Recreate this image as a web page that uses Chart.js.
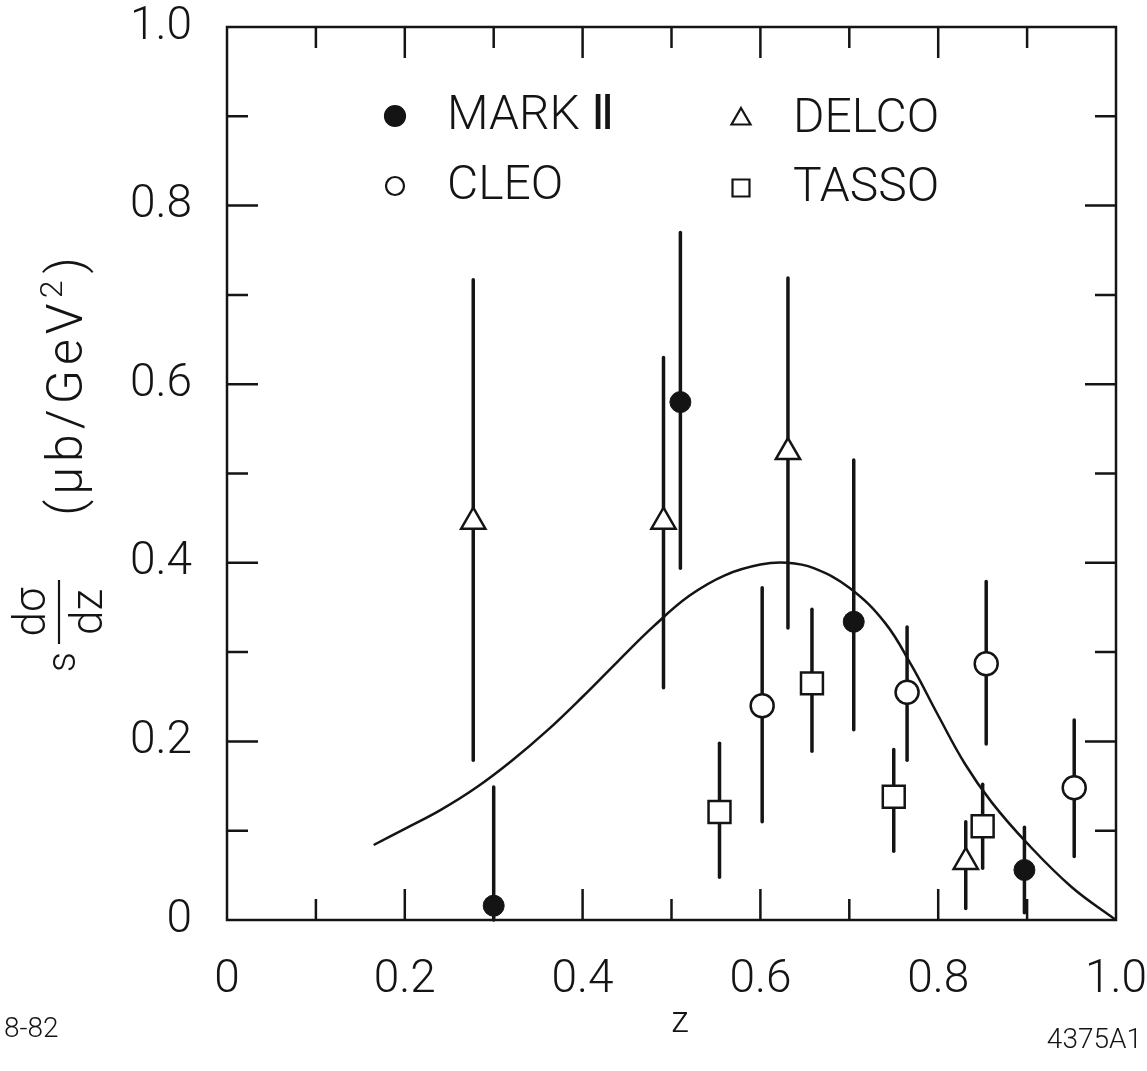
<!DOCTYPE html>
<html>
<head>
<meta charset="utf-8">
<script src="https://cdn.jsdelivr.net/npm/chart.js@4.4.1/dist/chart.umd.min.js"></script>
<style>
  html, body { margin: 0; padding: 0; background: #fff; }
  #wrap { width: 1147px; height: 1071px; }
</style>
</head>
<body>
<div id="wrap"><canvas id="myChart" width="1147" height="1071"></canvas></div>
<script>
// values: z, s dsigma/dz (ub/GeV^2), error bar low / high
const markZ = [0.30, 0.51, 0.705, 0.897];
const markY = [0.016, 0.58, 0.334, 0.056];
const markLo = [0.0, 0.394, 0.213, 0.008];
const markHi = [0.149, 0.77, 0.515, 0.104];

const cleoZ = [0.602, 0.765, 0.854, 0.953];
const cleoY = [0.24, 0.255, 0.287, 0.148];
const cleoLo = [0.11, 0.179, 0.197, 0.071];
const cleoHi = [0.372, 0.328, 0.379, 0.224];

const delcoZ = [0.277, 0.491, 0.631, 0.831];
const delcoY = [0.446, 0.446, 0.524, 0.065];
const delcoLo = [0.179, 0.26, 0.327, 0.013];
const delcoHi = [0.717, 0.63, 0.719, 0.11];

const tassoZ = [0.554, 0.658, 0.75, 0.85];
const tassoY = [0.121, 0.265, 0.138, 0.105];
const tassoLo = [0.048, 0.189, 0.077, 0.058];
const tassoHi = [0.198, 0.348, 0.191, 0.152];

// the smooth curve
const curveZ = [0.165, 0.20, 0.24, 0.28, 0.32, 0.36, 0.40, 0.44, 0.48, 0.52, 0.56, 0.60, 0.63, 0.66, 0.70, 0.74, 0.77, 0.80, 0.83, 0.86, 0.90, 0.95, 1.00];
const curveY = [0.084, 0.102, 0.123, 0.148, 0.178, 0.212, 0.250, 0.290, 0.329, 0.363, 0.386, 0.398, 0.400, 0.394, 0.372, 0.333, 0.285, 0.229, 0.175, 0.132, 0.086, 0.037, 0.0];

const frameTicks = [0.1, 0.2, 0.3, 0.4, 0.5, 0.6, 0.7, 0.8, 0.9];

const ink = "#141414";
const face = "Roboto";

const pts = (xs, ys) => xs.map((v, i) => ({ x: v, y: ys[i] }));

// frame with inward ticks on all four sides
const framePlugin = {
  id: "framePlugin",
  beforeDatasetsDraw(chart) {
    const { ctx, chartArea: a, scales } = chart;
    ctx.save();
    ctx.strokeStyle = ink;
    ctx.lineWidth = 2.5;
    ctx.strokeRect(a.left, a.top, a.right - a.left, a.bottom - a.top);
    ctx.beginPath();
    frameTicks.forEach((t, i) => {
      const len = i % 2 ? 31 : 21;
      const px = scales.x.getPixelForValue(t);
      const py = scales.y.getPixelForValue(t);
      ctx.moveTo(px, a.bottom); ctx.lineTo(px, a.bottom - len);
      ctx.moveTo(px, a.top); ctx.lineTo(px, a.top + len);
      ctx.moveTo(a.left, py); ctx.lineTo(a.left + len, py);
      ctx.moveTo(a.right, py); ctx.lineTo(a.right - len, py);
    });
    ctx.stroke();
    ctx.restore();
  }
};

// vertical error bars, drawn under the markers
const errorBars = {
  id: "errorBars",
  beforeDatasetsDraw(chart) {
    const { ctx, scales } = chart;
    ctx.save();
    ctx.strokeStyle = ink;
    ctx.lineWidth = 3.5;
    ctx.lineCap = "round";
    chart.data.datasets.forEach((ds) => {
      if (!ds.lo) return;
      ds.data.forEach((p, i) => {
        const px = scales.x.getPixelForValue(p.x);
        ctx.beginPath();
        ctx.moveTo(px, scales.y.getPixelForValue(ds.lo[i]));
        ctx.lineTo(px, scales.y.getPixelForValue(ds.hi[i]));
        ctx.stroke();
      });
    });
    ctx.restore();
  }
};

// legend, axis titles and the figure numbers
const notes = {
  id: "notes",
  afterDraw(chart) {
    const { ctx } = chart;
    ctx.save();
    ctx.fillStyle = ink;
    ctx.strokeStyle = ink;

    // legend
    const items = [
      { text: "MARK Ⅱ", x: 395, y: 116, style: "circle", r: 10, fill: ink },
      { text: "CLEO", x: 395, y: 186, style: "circle", r: 9, fill: "#fff" },
      { text: "DELCO", x: 741, y: 119, style: "triangle", r: 11, fill: "#fff" },
      { text: "TASSO", x: 741, y: 188, style: "rect", r: 12, fill: "#fff" }
    ];
    ctx.font = "300 48px " + face;
    ctx.textBaseline = "middle";
    items.forEach((it) => {
      ctx.save();
      ctx.fillStyle = it.fill;
      ctx.lineWidth = 2.2;
      Chart.helpers.drawPoint(ctx, { pointStyle: it.style, radius: it.r, borderWidth: 2.2, rotation: 0 }, it.x, it.y);
      ctx.restore();
      ctx.fillText(it.text, it.x + 52, it.y + 1);
    });

    // y title, rotated
    ctx.save();
    ctx.translate(82, 385);
    ctx.rotate(-Math.PI / 2);
    ctx.textBaseline = "alphabetic";
    ctx.font = "300 50px " + face;
    const a1 = "(μb/GeV", a2 = "2", a3 = ")";
    ctx.letterSpacing = "5px";
    const w1 = ctx.measureText(a1).width;
    ctx.font = "300 32px " + face;
    const w2 = ctx.measureText(a2).width;
    ctx.font = "300 50px " + face;
    const w3 = ctx.measureText(a3).width;
    let sx = -(w1 + w2 + w3) / 2;
    ctx.fillText(a1, sx, 0);
    ctx.font = "300 32px " + face;
    ctx.fillText(a2, sx + w1, -20);
    ctx.font = "300 50px " + face;
    ctx.fillText(a3, sx + w1 + w2 + 2, 0);
    ctx.restore();

    ctx.save();
    ctx.translate(59, 612);
    ctx.rotate(-Math.PI / 2);
    ctx.textAlign = "center";
    ctx.textBaseline = "alphabetic";
    ctx.font = "300 44px " + face;
    ctx.fillText("dσ", 0, -14);
    ctx.fillText("dz", 0, 43);
    ctx.lineWidth = 2.2;
    ctx.beginPath();
    ctx.moveTo(-32, 0); ctx.lineTo(32, 0);
    ctx.stroke();
    ctx.font = "300 40px " + face;
    ctx.fillText("s", -50, 16);
    ctx.restore();

    ctx.textAlign = "center";
    ctx.textBaseline = "alphabetic";
    ctx.font = "300 36px " + face;
    ctx.fillText("z", 680, 1032);
    ctx.font = "300 28px " + face;
    ctx.textAlign = "left";
    ctx.fillText("8-82", 4, 1037);
    ctx.textAlign = "right";
    ctx.fillText("4375A1", 1142, 1048);
    ctx.restore();
  }
};

const ctx = document.getElementById("myChart");

new Chart(ctx, {
  type: "scatter",
  data: {
    datasets: [
      {
        label: "curve",
        data: pts(curveZ, curveY),
        showLine: true,
        borderColor: ink,
        borderWidth: 2.5,
        pointRadius: 0,
        tension: 0.4,
        fill: false
      },
      {
        label: "MARK II",
        data: pts(markZ, markY),
        lo: markLo, hi: markHi,
        pointStyle: "circle",
        pointRadius: 10.5,
        backgroundColor: ink,
        borderColor: ink,
        borderWidth: 1
      },
      {
        label: "CLEO",
        data: pts(cleoZ, cleoY),
        lo: cleoLo, hi: cleoHi,
        pointStyle: "circle",
        pointRadius: 11.5,
        backgroundColor: "#fff",
        borderColor: ink,
        borderWidth: 2.5
      },
      {
        label: "DELCO",
        data: pts(delcoZ, delcoY),
        lo: delcoLo, hi: delcoHi,
        pointStyle: "triangle",
        pointRadius: 14,
        backgroundColor: "#fff",
        borderColor: ink,
        borderWidth: 2.5
      },
      {
        label: "TASSO",
        data: pts(tassoZ, tassoY),
        lo: tassoLo, hi: tassoHi,
        pointStyle: "rect",
        pointRadius: 15.5,
        backgroundColor: "#fff",
        borderColor: ink,
        borderWidth: 2.5
      }
    ]
  },
  options: {
    responsive: false,
    animation: false,
    layout: { padding: { top: 27, right: 31, left: 0, bottom: 0 } },
    plugins: { legend: { display: false }, tooltip: { enabled: false } },
    scales: {
      x: {
        type: "linear",
        min: 0,
        max: 1,
        grid: { display: false },
        border: { display: false },
        ticks: {
          stepSize: 0.2,
          padding: 25,
          color: ink,
          font: { family: face, size: 46, weight: 300 },
          callback: (v) => (v === 0 ? "0" : v.toFixed(1))
        },
        afterFit: (s) => {
          s.height = 151;
          s.paddingLeft = 0;
          s.paddingRight = 0;
        }
      },
      y: {
        type: "linear",
        min: 0,
        max: 1,
        grid: { display: false },
        border: { display: false },
        ticks: {
          stepSize: 0.2,
          padding: 27,
          color: ink,
          font: { family: face, size: 46, weight: 300 },
          callback: (v) => (v === 0 ? "0" : v.toFixed(1))
        },
        afterFit: (s) => {
          s.width = 227;
          s.paddingTop = 0;
          s.paddingBottom = 0;
        }
      }
    }
  },
  plugins: [framePlugin, errorBars, notes]
});
</script>
</body>
</html>
